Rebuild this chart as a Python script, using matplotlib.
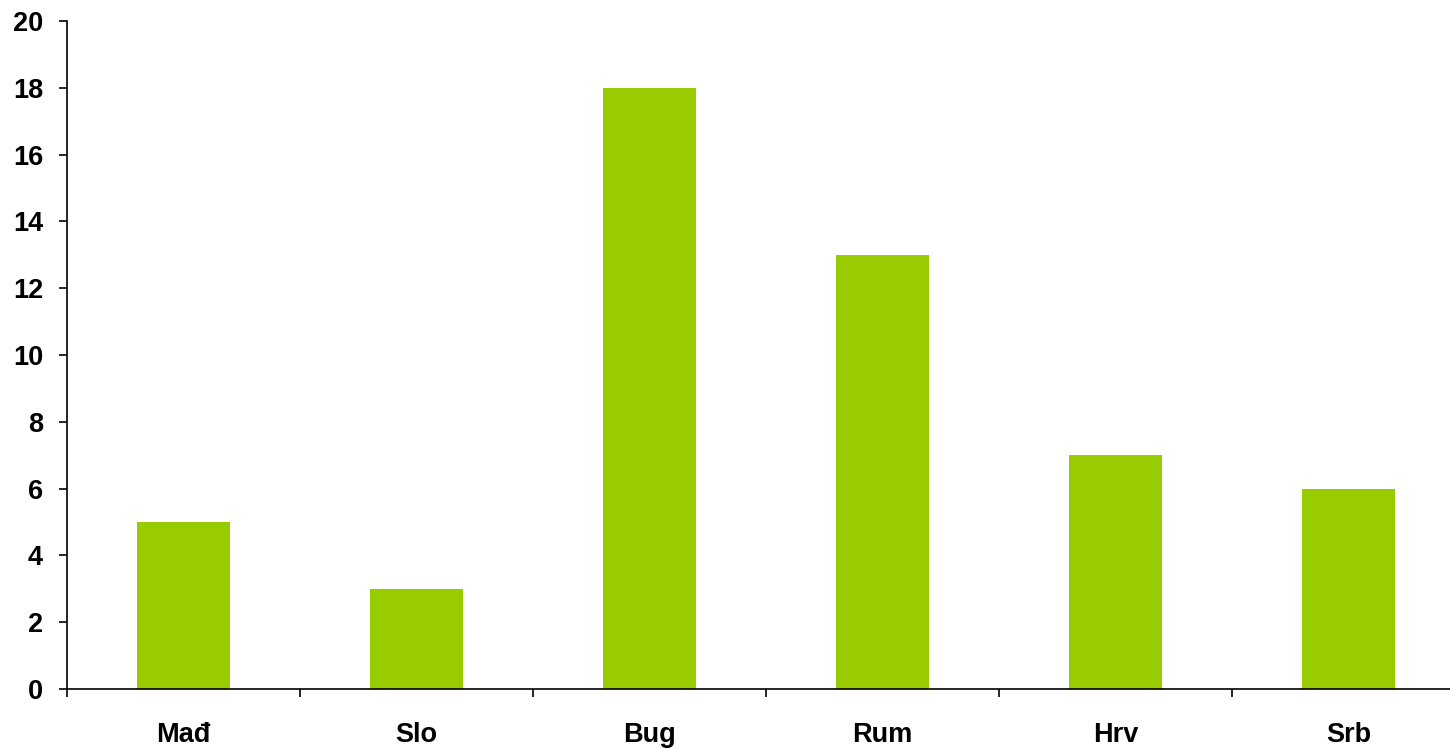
import matplotlib
matplotlib.use('Agg')
import matplotlib.pyplot as plt

plt.rcParams['font.family'] = ['Liberation Sans', 'DejaVu Sans']

categories = ['Mađ', 'Slo', 'Bug', 'Rum', 'Hrv', 'Srb']
values = [5, 3, 18, 13, 7, 6]

fig = plt.figure(figsize=(14.5, 7.5), dpi=100)
# plot area runs slightly past the right edge of the picture, as in the original
ax = fig.add_axes([0.046, 0.0813, 0.9645, 0.8907])

x = list(range(len(categories)))
ax.bar(x, values, width=0.40, color='#99CC00', zorder=2)

ax.set_xlim(-0.5, len(categories) - 0.5)
ax.set_ylim(0, 20)
ax.set_yticks(range(0, 21, 2))
ax.tick_params(axis='y', length=6, width=1.2, labelsize=19.5, pad=11)

# boundary ticks without labels, category labels on minor ticks
ax.set_xticks([i - 0.5 for i in x])
ax.set_xticklabels([])
ax.tick_params(axis='x', which='major', length=6, width=1.2)
ax.set_xticks(x, minor=True)
ax.set_xticklabels(categories, minor=True)
ax.tick_params(axis='x', which='minor', length=0, labelsize=19.5, pad=24)

for lbl in ax.get_yticklabels() + ax.get_xticklabels(minor=True):
    lbl.set_fontweight('bold')

ax.spines['top'].set_visible(False)
ax.spines['right'].set_visible(False)
ax.spines['left'].set_linewidth(1.2)
ax.spines['bottom'].set_linewidth(1.2)

fig.savefig('out.png', dpi=100)
